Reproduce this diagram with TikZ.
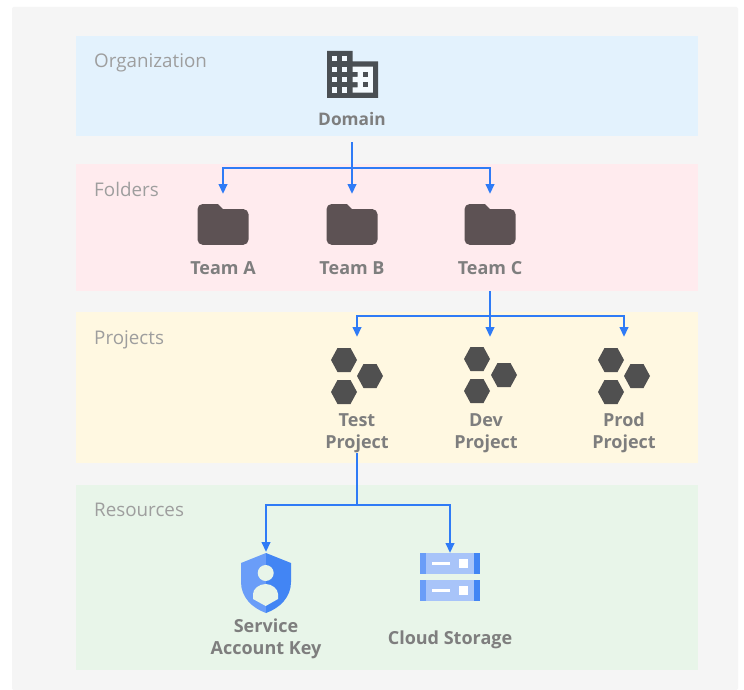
\documentclass[tikz,border=0pt]{standalone}
\usepackage{fontspec}
\setmainfont{Open Sans}
\usetikzlibrary{arrows.meta}
\definecolor{pagebg}{HTML}{F5F5F5}
\definecolor{orgbg}{HTML}{E3F2FD}
\definecolor{folderbg}{HTML}{FFEBEE}
\definecolor{projbg}{HTML}{FFF8E1}
\definecolor{resbg}{HTML}{E8F5E9}
\definecolor{linkblue}{HTML}{2F7BF6}
\definecolor{bandtext}{HTML}{9E9E9E}
\definecolor{nodetext}{HTML}{7E7E7E}
\definecolor{buildcol}{HTML}{4A4F53}
\definecolor{foldercol}{HTML}{5D5254}
\definecolor{hexcol}{HTML}{505050}
\definecolor{shieldl}{HTML}{6A9DF8}
\definecolor{shieldr}{HTML}{4285F4}
\definecolor{stmid}{HTML}{A8C4F9}
\tikzset{
  bandlabel/.style={anchor=base west,inner sep=0pt,text=bandtext,font=\fontsize{18.8}{22}\selectfont},
  itemlabel/.style={align=center,inner sep=0pt,text=nodetext,font=\fontsize{18}{22}\bfseries\selectfont},
  singlelabel/.style={itemlabel,anchor=base},
  slot/.style={anchor=north,inner sep=0pt,outer sep=0pt,minimum width=50pt},
  link/.style={draw=linkblue,line width=2.3pt},
  arrowlink/.style={link,-{Triangle[length=10pt,width=8.5pt]}},
  hexa/.style={fill=hexcol,draw=none},
}
\newcommand{\hexat}[2]{\fill[hexa] (#1-13,#2) -- (#1-6.5,#2-12) -- (#1+6.5,#2-12) -- (#1+13,#2) -- (#1+6.5,#2+12) -- (#1-6.5,#2+12) -- cycle;}
\newcommand{\folderat}[1]{%
  \begin{scope}[shift={(#1,204)},x=2.55pt,y=-2.55pt]
  \fill[foldercol] (8,0) -- (2,0) .. controls (0.9,0) and (0,0.9) .. (0,2) -- (0,14) .. controls (0,15.1) and (0.9,16) .. (2,16) -- (18,16) .. controls (19.1,16) and (20,15.1) .. (20,14) -- (20,4) .. controls (20,2.9) and (19.1,2) .. (18,2) -- (10,2) -- cycle;
  \end{scope}}
\newcommand{\storagerow}[1]{%
  \fill[stmid] (426,#1) rectangle (474,#1+21);
  \fill[shieldl] (420,#1) rectangle (426,#1+21);
  \fill[shieldr] (474,#1) rectangle (480,#1+21);
  \fill[white] (432,#1+9) rectangle (450,#1+12);
  \fill[white] (459,#1+6) rectangle (468,#1+15);}
\begin{document}
\begin{tikzpicture}[x=1pt,y=-1pt]
\useasboundingbox (0,0) rectangle (744,690);
\fill[white] (0,0) rectangle (744,690);
\fill[pagebg,rounded corners=2pt] (12,7) rectangle (738,690);
% bands
\fill[orgbg] (76,36) rectangle (698,136);
\fill[folderbg] (76,164) rectangle (698,291);
\fill[projbg] (76,312) rectangle (698,463);
\fill[resbg] (76,485) rectangle (698,670);
\node[bandlabel] (lorg) at (94,68) {Organization};
\node[bandlabel] (lfold) at (94,196) {Folders};
\node[bandlabel] (lproj) at (94,344) {Projects};
\node[bandlabel] (lres) at (94,516) {Resources};
% building icon
\begin{scope}[shift={(321.9,43.2)},x=2.55pt,y=-2.6pt]
  \fill[buildcol] (2,3) -- (12,3) -- (12,7) -- (22,7) -- (22,21) -- (2,21) -- cycle;
  \foreach \cx in {4,8}{\foreach \cy in {5,9,13,17}{\fill[orgbg!40!white] (\cx,\cy) rectangle (\cx+2,\cy+2);}}
  \fill[orgbg!40!white] (12,9) -- (20,9) -- (20,19) -- (12,19) -- (12,17) -- (14,17) -- (14,15) -- (12,15) -- (12,13) -- (14,13) -- (14,11) -- (12,11) -- cycle;
  \fill[buildcol] (16,11) rectangle (18,13);
  \fill[buildcol] (16,15) rectangle (18,17);
\end{scope}
% folder icons
\folderat{197.5}
\folderat{326.5}
\folderat{464.5}
% hexagons
\hexat{344}{360}\hexat{370}{376}\hexat{344}{392}
\hexat{477}{359}\hexat{504}{375}\hexat{477}{391}
\hexat{611}{360}\hexat{637}{376}\hexat{611}{392}
% shield
\fill[shieldl] (266,553) -- (241,563) -- (241,582) .. controls (241,597) and (252,608) .. (266,613) -- cycle;
\fill[shieldr] (266,553) -- (291,563) -- (291,582) .. controls (291,597) and (280,608) .. (266,613) -- cycle;
\fill[resbg] (265.7,573) circle (8);
\fill[resbg] (265.7,584) .. controls (272,584) and (278,589) .. (278,594) -- (278,599) -- (265.7,606) -- (253,599) -- (253,594) .. controls (253,589) and (259,584) .. (265.7,584) -- cycle;
% storage
\storagerow{553}
\storagerow{580}
% labels
\node[singlelabel,font=\fontsize{17.3}{22}\bfseries\selectfont] (domain) at (352,125) {Domain};
\node[singlelabel] (ta) at (223,274) {Team A};
\node[singlelabel] (tb) at (352,274) {Team B};
\node[singlelabel] (tc) at (490,274) {Team C};
\node[itemlabel] (tp) at (357,433) {Test\\Project};
\node[itemlabel] (dp) at (486,433) {Dev\\Project};
\node[itemlabel] (pp) at (624,433) {Prod\\Project};
\node[itemlabel] (sa) at (266,639) {Service\\Account Key};
\node[singlelabel] (cs) at (450,644) {Cloud Storage};
% icon slots
\node[slot,minimum height=52pt] (fa) at (223,194) {};
\node[slot,minimum height=52pt] (fb) at (352,194) {};
\node[slot,minimum height=52pt] (fc) at (490,194) {};
\node[slot,minimum height=68pt] (ptest) at (357,337) {};
\node[slot,minimum height=68pt] (pdev) at (490,337) {};
\node[slot,minimum height=68pt] (pprod) at (624,337) {};
\node[slot,minimum height=61pt] (skey) at (266,552) {};
\node[slot,minimum height=49pt] (store) at (450,553) {};
\coordinate (busF) at (352,168);
\coordinate (busP) at (490,316);
\coordinate (busR) at (357,505);
% connectors
\draw[arrowlink,shorten <=17pt] (domain.south) -- (fb.north);
\draw[arrowlink] (busF) -| (fa.north);
\draw[arrowlink] (busF) -| (fc.north);
\draw[arrowlink,shorten <=17pt] (tc.base) -- (fc.south |- pdev.north);
\draw[arrowlink] (busP) -| (ptest.north);
\draw[arrowlink] (busP) -| (pprod.north);
\draw[link] (tp.south) -- (busR);
\draw[arrowlink] (busR) -| (skey.north);
\draw[arrowlink] (busR) -| (store.north);
\end{tikzpicture}
\end{document}
